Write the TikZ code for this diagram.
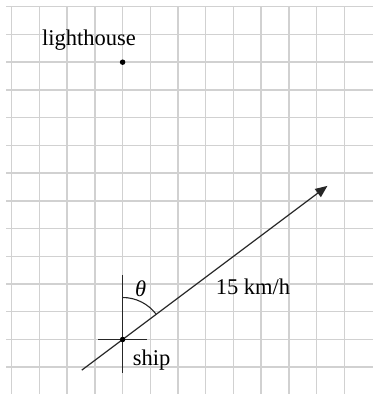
\documentclass[tikz,border=0pt]{standalone}
\usepackage{fontspec}
\setmainfont{Liberation Serif}
\usetikzlibrary{arrows.meta}
\begin{document}
\begin{tikzpicture}[x=1pt,y=1pt,
  gridline/.style={draw=black!18, line width=1.5pt},
  mark line/.style={draw=black!85, line width=1.3pt},
  vec/.style={draw=black!85, line width=1.2pt, -{Triangle[length=12pt,width=10pt]}},
  lbl/.style={inner sep=0pt, font=\fontsize{22.5}{27}\selectfont},
  dot/.style={circle, fill=black, inner sep=0pt, minimum size=5.5pt}]
\useasboundingbox (0,0) rectangle (373,394);
% grid
\foreach \k in {0,...,12} {
  \draw[gridline] ({11.6+27.73*\k},0) -- ({11.6+27.73*\k},387.3);
}
\foreach \j in {0,...,13} {
  \draw[gridline] (6,{387.3-27.73*\j}) -- (373,{387.3-27.73*\j});
}
% points
\coordinate (ship) at (122.6,54.5);
\node[dot] (lh) at (122.6,331.8) {};
\node[lbl] (lhlabel) at (89,354.3) {lighthouse};
% cross at ship
\coordinate (crossW) at (98.3,54.5);
\coordinate (crossE) at (147.3,54.5);
\coordinate (crossN) at (122.6,119);
\coordinate (crossS) at (122.6,21.3);
\draw[mark line] (crossW) -- (crossE);
\draw[mark line] (crossN) -- (crossS);
% velocity line
\coordinate (tail) at (81.8,23.9);
\coordinate (tip) at (327.4,208.1);
\draw[vec] (tail) -- (tip);
\node[dot] (shipdot) at (ship) {};
% angle arc
\draw[mark line, line width=1.1pt] ([shift={(90:42)}]ship) arc[start angle=90, end angle=36.87, radius=42];
\node[lbl] (theta) at (140.7,105.2) {\textit{θ}};
\node[lbl] (speed) at (253,107.2) {15 km/h};
\node[lbl] (shiplabel) at (151.7,34) {ship};
\end{tikzpicture}
\end{document}
